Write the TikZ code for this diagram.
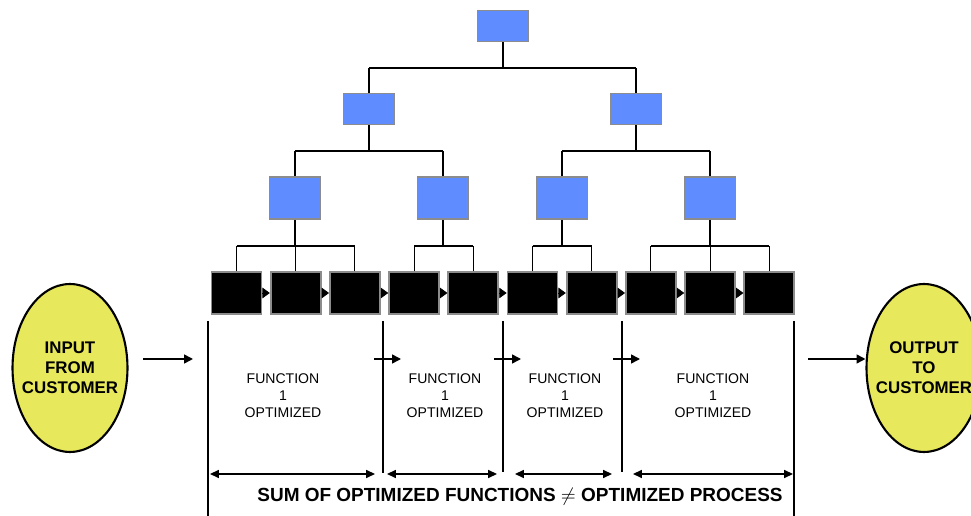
\documentclass[tikz,border=0pt]{standalone}
\usepackage{fontspec}
\setmainfont{Liberation Sans}
\usetikzlibrary{arrows.meta,positioning,shapes.geometric}
\definecolor{boxBlue}{HTML}{5F8CFF}
\definecolor{boxGray}{HTML}{8C8C8C}
\definecolor{ovalYellow}{HTML}{E8E85C}
\tikzset{
  mgr/.style={draw=boxGray,fill=boxBlue,line width=1pt,minimum width=1.02cm,inner sep=0pt},
  task/.style={draw=boxGray,fill=black,line width=1pt,minimum width=1cm,minimum height=0.84cm,inner sep=0pt},
  party/.style={ellipse,draw,fill=ovalYellow,line width=1.2pt,minimum width=2.3cm,minimum height=3.36cm,
    inner xsep=-5pt,inner ysep=0pt,align=center,font=\bfseries\fontsize{9.6}{11.3}\selectfont},
  fnlabel/.style={align=center,font=\fontsize{8}{9.6}\selectfont},
  stem/.style={line width=0.6pt},
  bus/.style={line width=1.1pt},
  wall/.style={line width=1.6pt},
  flow/.style={-{Triangle[length=4.2pt,width=6pt]}},
  feed/.style={line width=0.9pt,-{Triangle[length=5pt,width=5pt]}},
  span/.style={line width=0.8pt,{Triangle[length=5pt,width=4.5pt]}-{Triangle[length=5pt,width=4.5pt]}}
}

\begin{document}
\begin{tikzpicture}[x=0.02cm,y=-0.02cm]
  \clip (0,0) rectangle (971,516);
  % management tree
  \node[mgr,minimum height=0.62cm] (top) at (503,26) {};
  \node[mgr,minimum height=0.62cm] (m1) at (369,109) {};
  \node[mgr,minimum height=0.62cm] (m2) at (636,109) {};
  \foreach \i/\x in {1/295,2/443,3/562,4/710}
    \node[mgr,minimum height=0.84cm] (f\i) at (\x,198) {};

  \draw[stem] (top.south) -- (top.south |- 0,68);
  \draw[bus] (m1.north |- 0,68) -- (m2.north |- 0,68);
  \foreach \c in {m1,m2}
    \draw[stem] (\c.north) -- (\c.north |- 0,68);

  \foreach \p/\a/\b in {m1/f1/f2,m2/f3/f4}{
    \draw[stem] (\p.south) -- (\p.south |- 0,151);
    \draw[bus] (\a.north |- 0,151) -- (\b.north |- 0,151);
    \draw[stem] (\a.north) -- (\a.north |- 0,151);
    \draw[stem] (\b.north) -- (\b.north |- 0,151);
  }

  % process steps
  \foreach \i in {1,...,10}
    \node[task] (k\i) at ({236.5+59.2*(\i-1)},293) {};
  \foreach \i [evaluate=\i as \j using int(\i+1)] in {1,...,9}
    \draw[flow] (k\i.east) -- (k\j.west);

  \foreach \f/\a/\b in {f1/k1/k3,f2/k4/k5,f3/k6/k7,f4/k8/k10}{
    \draw[stem] (\f.south) -- (\f.south |- 0,246);
    \draw[bus] (\a.north |- 0,246) -- (\b.north |- 0,246);
  }
  \foreach \k in {1,...,10}
    \draw[stem] (k\k.north) -- (k\k.north |- 0,246);

  % customers
  \node[party] (input) at (70,368) {INPUT\\FROM\\CUSTOMER};
  \node[party] (output) at (924,368) {OUTPUT\\TO\\CUSTOMER};

  % function boundaries
  \coordinate (w0a) at (208,321); \coordinate (w0b) at (208,516);
  \coordinate (w1a) at (383,321); \coordinate (w1b) at (383,473);
  \coordinate (w2a) at (503,321); \coordinate (w2b) at (503,472);
  \coordinate (w3a) at (622,321); \coordinate (w3b) at (622,472);
  \coordinate (w4a) at (794,321); \coordinate (w4b) at (794,516);
  \foreach \w in {0,...,4}
    \draw[wall] (w\w a) -- (w\w b);

  \coordinate (in0) at (143,359); \coordinate (in1) at (193,359);
  \coordinate (out0) at (808,359);
  \draw[feed] (in0) -- (in1);
  \draw[feed] (out0) -- (output.west |- out0);
  \foreach \x in {383,503,622}{
    \coordinate (h0) at (\x-9,359); \coordinate (h1) at (\x+18,359);
    \draw[feed] (h0) -- (h1);
  }

  \foreach \i/\x in {1/283,2/445,3/565,4/713}
    \node[fnlabel] (fn\i) at (\x,396) {FUNCTION\\1\\OPTIMIZED};

  % spans
  \foreach \a/\b in {210/375,387/497,515/612,633/793}{
    \coordinate (sa) at (\a,474); \coordinate (sb) at (\b,474);
    \draw[span] (sa) -- (sb);
  }
  \node[font=\bfseries\fontsize{10.8}{13}\selectfont] (sum) at (520,497)
    {SUM OF OPTIMIZED FUNCTIONS $\neq$ OPTIMIZED PROCESS};
\end{tikzpicture}
\end{document}
